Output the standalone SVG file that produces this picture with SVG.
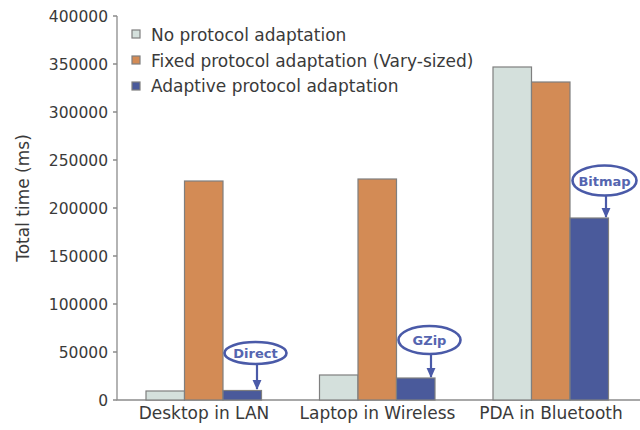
<svg xmlns="http://www.w3.org/2000/svg" width="640" height="430" viewBox="0 0 640 430">
  <style>
    text { font-family: "DejaVu Sans", Verdana, sans-serif; fill: #3a3a3a; }
    .tick { font-size: 15.5px; text-anchor: end; }
    .cat { font-size: 17px; text-anchor: middle; }
    .leg { font-size: 17px; }
    .axis { stroke: #8c8c8c; stroke-width: 1.3; fill: none; }
    .none { fill: #d4e0dc; stroke: #7f7f7f; stroke-width: 1.2; }
    .fixed { fill: #d38b55; stroke: #7f7f7f; stroke-width: 1.2; }
    .adapt { fill: #4a5a9b; stroke: #7f7f7f; stroke-width: 1.2; }
    .callout ellipse { fill: #ffffff; stroke: #4a5aa8; stroke-width: 2.6; }
    .callout text { font-size: 13px; font-weight: bold; fill: #5565b0; text-anchor: middle; }
    .pointer { stroke: #4a5aa8; stroke-width: 2.2; fill: none; marker-end: url(#head); }
  </style>
  <defs>
    <marker id="head" viewBox="0 0 10 10" refX="9" refY="5" markerWidth="4.5" markerHeight="4.5" orient="auto" markerUnits="strokeWidth">
      <path d="M0,0.5 L10,5 L0,9.5 z" fill="#4a5aa8"/>
    </marker>
  </defs>

  <rect width="640" height="430" fill="#ffffff"/>

  <!-- value axis -->
  <g id="y-axis">
    <path class="axis" d="M117,16 V400 H640"/>
    <path class="axis" d="M113,16 H117 M113,64 H117 M113,112 H117 M113,160 H117 M113,208 H117 M113,256 H117 M113,304 H117 M113,352 H117 M113,400 H117"/>
    <text class="tick" x="108" y="22">400000</text>
    <text class="tick" x="108" y="70">350000</text>
    <text class="tick" x="108" y="118">300000</text>
    <text class="tick" x="108" y="166">250000</text>
    <text class="tick" x="108" y="214">200000</text>
    <text class="tick" x="108" y="262">150000</text>
    <text class="tick" x="108" y="310">100000</text>
    <text class="tick" x="108" y="358">50000</text>
    <text class="tick" x="108" y="406">0</text>
    <text x="29" y="198" font-size="17" text-anchor="middle" transform="rotate(-90 29 198)">Total time (ms)</text>
  </g>

  <!-- legend -->
  <g id="legend">
    <rect class="none" x="132" y="30" width="8" height="8"/>
    <rect class="fixed" x="132" y="56" width="8" height="8"/>
    <rect class="adapt" x="132" y="82" width="8" height="8"/>
    <text class="leg" x="151" y="41">No protocol adaptation</text>
    <text class="leg" x="151" y="67">Fixed protocol adaptation (Vary-sized)</text>
    <text class="leg" x="151" y="92">Adaptive protocol adaptation</text>
  </g>

  <!-- Desktop in LAN -->
  <g id="desktop-lan">
    <rect class="none" x="146" y="391" width="38.5" height="9"/>
    <rect class="fixed" x="184.5" y="181" width="38.5" height="219"/>
    <rect class="adapt" x="223" y="390.5" width="38.5" height="9.5"/>
    <text class="cat" x="204" y="419">Desktop in LAN</text>
  </g>

  <!-- Laptop in Wireless -->
  <g id="laptop-wireless">
    <rect class="none" x="319.5" y="375" width="38.5" height="25"/>
    <rect class="fixed" x="358" y="179" width="38.5" height="221"/>
    <rect class="adapt" x="396.5" y="378" width="38.5" height="22"/>
    <text class="cat" x="377.5" y="419">Laptop in Wireless</text>
  </g>

  <!-- PDA in Bluetooth -->
  <g id="pda-bluetooth">
    <rect class="none" x="493" y="67" width="38.5" height="333"/>
    <rect class="fixed" x="531.5" y="82" width="38.5" height="318"/>
    <rect class="adapt" x="570" y="218" width="38.5" height="182"/>
    <text class="cat" x="551" y="419">PDA in Bluetooth</text>
  </g>

  <!-- callout labels -->
  <g id="callout-direct" class="callout">
    <ellipse cx="255.5" cy="353" rx="31" ry="11"/>
    <text x="255.5" y="357.5">Direct</text>
  </g>
  <g id="callout-gzip" class="callout">
    <ellipse cx="429.5" cy="340" rx="31" ry="14"/>
    <text x="429.5" y="345">GZip</text>
  </g>
  <g id="callout-bitmap" class="callout">
    <ellipse cx="604.5" cy="180.5" rx="32" ry="15"/>
    <text x="604.5" y="185.5">Bitmap</text>
  </g>

  <!-- pointers from callouts to bars -->
  <g id="connectors">
    <path class="pointer" d="M257,364 V389"/>
    <path class="pointer" d="M431,354 V377"/>
    <path class="pointer" d="M606,195.5 V217"/>
  </g>
</svg>
